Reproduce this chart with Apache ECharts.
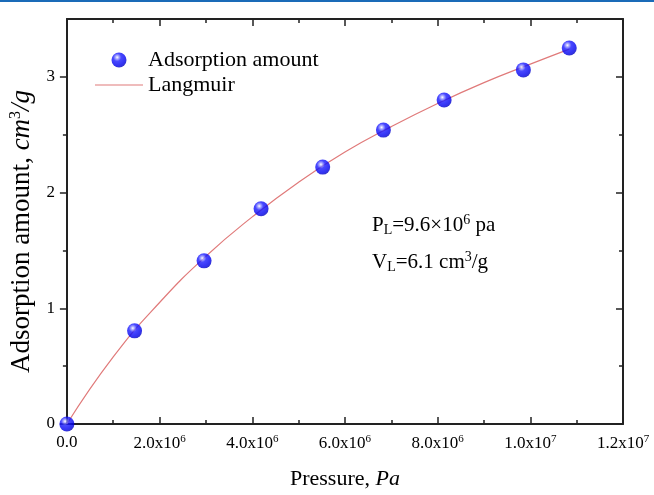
<!DOCTYPE html>
<html>
<head>
<meta charset="utf-8">
<script src="https://cdn.jsdelivr.net/npm/echarts@6/dist/echarts.min.js"></script>
<style>
  html, body { margin: 0; padding: 0; background: #fff; }
  #canvas { width: 654px; height: 495px; }
</style>
</head>
<body>
<div id="canvas"></div>
<script>
// measured points (pressure in Pa, amount in cm3/g)
var adsPressure = [0, 1.46e6, 2.96e6, 4.19e6, 5.52e6, 6.83e6, 8.14e6, 9.85e6, 1.084e7];
var adsAmount = [0, 0.805, 1.41, 1.86, 2.22, 2.54, 2.80, 3.06, 3.25];

// Langmuir curve
var fitPressure = [0, 1e6, 2e6, 3e6, 4e6, 5e6, 6e6, 7e6, 8e6, 9e6, 1e7, 1.084e7];
var fitAmount = [0, 0.58, 1.05, 1.45, 1.79, 2.09, 2.35, 2.57, 2.77, 2.95, 3.11, 3.24];

// tick labels
var xTickMant = ['0.0', '2.0', '4.0', '6.0', '8.0', '1.0', '1.2'];
var xTickExp = ['', '6', '6', '6', '6', '7', '7'];
var yMajor = [0, 1, 2, 3];
var yMinor = [0.5, 1.5, 2.5];

var FONT = '"Liberation Serif", "DejaVu Serif", serif';
var AXIS = '#222';

function pairs(xs, ys) {
  return xs.map(function (x, i) { return [x, ys[i]]; });
}

var sphere = {
  type: 'radial', x: 0.38, y: 0.32, r: 0.7,
  colorStops: [
    { offset: 0, color: '#ffffff' },
    { offset: 0.15, color: '#9a9aff' },
    { offset: 0.38, color: '#1a1aff' },
    { offset: 0.8, color: '#0000ee' },
    { offset: 1, color: '#0000c0' }
  ]
};

var xRich = {
  n: { fontFamily: FONT, fontSize: 17, color: '#000' },
  s: { fontFamily: FONT, fontSize: 11, color: '#000', padding: [0, 0, 9, 0] }
};

function xLabel(v) {
  var i = Math.round(v / 2e6);
  if (!xTickExp[i]) return '{n|' + xTickMant[i] + '}';
  return '{n|' + xTickMant[i] + 'x10}{s|' + xTickExp[i] + '}';
}

function xAxisBase(pos) {
  return {
    type: 'value', position: pos, min: 0, max: 12e6, interval: 2e6,
    axisLine: { show: true, onZero: false, lineStyle: { color: AXIS, width: 2 } },
    axisTick: { show: true, inside: true, length: 7, lineStyle: { color: AXIS, width: 1.5 } },
    minorTick: { show: true, splitNumber: 2, length: 4, lineStyle: { color: AXIS, width: 1.5 } },
    splitLine: { show: false },
    axisLabel: { show: false }
  };
}

function yAxisBase(pos, ticks, len, inside, line) {
  return {
    type: 'value', position: pos, min: 0, max: 3.5, interval: 0.5,
    axisLine: { show: line, onZero: false, lineStyle: { color: AXIS, width: 2 } },
    axisTick: { show: true, inside: inside, length: len, customValues: ticks, lineStyle: { color: AXIS, width: 1.5 } },
    splitLine: { show: false },
    axisLabel: { show: false }
  };
}

var bottom = xAxisBase('bottom');
bottom.axisLabel = { show: true, margin: 10, formatter: xLabel, rich: xRich };
bottom.name = '{n|Pressure, }{i|Pa}';
bottom.nameLocation = 'middle';
bottom.nameGap = 44;
bottom.nameTextStyle = {
  rich: {
    n: { fontFamily: FONT, fontSize: 22, color: '#000' },
    i: { fontFamily: FONT, fontSize: 22, fontStyle: 'italic', color: '#000' }
  }
};

var left = yAxisBase('left', yMajor, 7, false, true);
left.axisLabel = {
  show: true, margin: 12, customValues: yMajor,
  fontFamily: FONT, fontSize: 17, color: '#000'
};
left.name = '{n|Adsorption amount, }{i|cm}{s|3}{i|/g}';
left.nameLocation = 'middle';
left.nameGap = 24;
left.nameTextStyle = {
  padding: [0, 20, 0, 0],
  rich: {
    n: { fontFamily: FONT, fontSize: 27, color: '#000' },
    i: { fontFamily: FONT, fontSize: 27, fontStyle: 'italic', color: '#000' },
    s: { fontFamily: FONT, fontSize: 16, color: '#000', padding: [0, 0, 12, 0] }
  }
};

var chart = echarts.init(document.getElementById('canvas'));
var option = {
  backgroundColor: '#fff',
  animation: false,
  textStyle: { fontFamily: FONT },
  grid: { left: 64, right: 31, top: 19, bottom: 63 },
  legend: {
    orient: 'vertical', left: 90, top: 44,
    itemWidth: 48, itemHeight: 15, itemGap: 3,
    textStyle: { fontFamily: FONT, fontSize: 22, color: '#000' },
    data: [
      { name: 'Adsorption amount', textStyle: { fontFamily: FONT } },
      { name: 'Langmuir', icon: 'path://M0,0h48v1.2h-48z', textStyle: { fontFamily: FONT } }
    ]
  },
  xAxis: [bottom, xAxisBase('top')],
  yAxis: [
    left,
    yAxisBase('left', yMinor, 4, false, false),
    yAxisBase('right', yMajor, 7, true, true),
    yAxisBase('right', yMinor, 4, true, false)
  ],
  graphic: [
    { type: 'rect', shape: { x: 0, y: 0, width: 654, height: 2 }, style: { fill: '#1a6bb8' } },
    {
      type: 'text', x: 372, y: 225,
      style: {
        text: '{n|P}{b|L}{n|=9.6×10}{t|6}{n| pa}',
        verticalAlign: 'middle', align: 'left',
        rich: {
          n: { fontFamily: FONT, fontSize: 21, fill: '#000' },
          b: { fontFamily: FONT, fontSize: 14, fill: '#000', padding: [10, 0, 0, 0] },
          t: { fontFamily: FONT, fontSize: 14, fill: '#000', padding: [0, 0, 10, 0] }
        }
      }
    },
    {
      type: 'text', x: 372, y: 262,
      style: {
        text: '{n|V}{b|L}{n|=6.1 cm}{t|3}{n|/g}',
        verticalAlign: 'middle', align: 'left',
        rich: {
          n: { fontFamily: FONT, fontSize: 21, fill: '#000' },
          b: { fontFamily: FONT, fontSize: 14, fill: '#000', padding: [10, 0, 0, 0] },
          t: { fontFamily: FONT, fontSize: 14, fill: '#000', padding: [0, 0, 10, 0] }
        }
      }
    }
  ],
  series: [
    {
      name: 'Langmuir', type: 'line', smooth: true, symbol: 'none', z: 2,
      lineStyle: { color: '#e07a7a', width: 1.2 },
      itemStyle: { color: '#e07a7a' },
      data: pairs(fitPressure, fitAmount)
    },
    {
      name: 'Adsorption amount', type: 'scatter', symbol: 'circle', symbolSize: 15, z: 3,
      itemStyle: { color: sphere },
      data: pairs(adsPressure, adsAmount)
    }
  ]
};
chart.setOption(option);
</script>
</body>
</html>
